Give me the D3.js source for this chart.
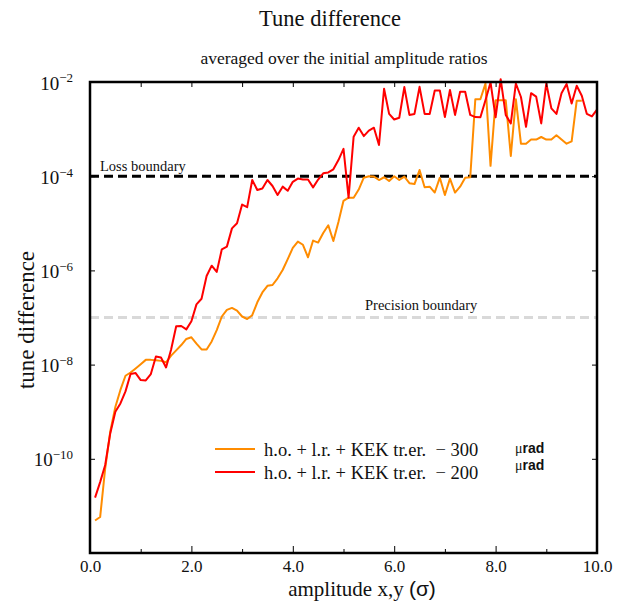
<!DOCTYPE html>
<html>
<head>
<meta charset="utf-8">
<script src="https://cdn.jsdelivr.net/npm/d3@7"></script>
<style>
  body { margin: 0; background: #fff; }
  svg text { font-family: "Liberation Serif", "Times New Roman", serif; fill: #111; }
</style>
</head>
<body>
<svg id="chart" width="625" height="610"></svg>
<script>
// amplitude grid (sigma)
var amplitude = [0.1,0.2,0.3,0.4,0.5,0.6,0.7,0.8,0.9,1.0,
    1.1,1.2,1.3,1.4,1.5,1.6,1.7,1.8,1.9,2.0,
    2.1,2.2,2.3,2.4,2.5,2.6,2.7,2.8,2.9,3.0,
    3.1,3.2,3.3,3.4,3.5,3.6,3.7,3.8,3.9,4.0,
    4.1,4.2,4.3,4.4,4.5,4.6,4.7,4.8,4.9,5.0,
    5.1,5.2,5.3,5.4,5.5,5.6,5.7,5.8,5.9,6.0,
    6.1,6.2,6.3,6.4,6.5,6.6,6.7,6.8,6.9,7.0,
    7.1,7.2,7.3,7.4,7.5,7.6,7.7,7.8,7.9,8.0,
    8.1,8.2,8.3,8.4,8.5,8.6,8.7,8.8,8.9,9.0,
    9.1,9.2,9.3,9.4,9.5,9.6,9.7,9.8,9.9,10.0];

// -300 urad (orange), stops at 9.7
var tune300 = [4.9e-12,5.8e-12,6.3e-11,3.8e-10,1.26e-9,2.9e-9,5.8e-9,6.8e-9,8.3e-9,1.02e-8,
    1.26e-8,1.26e-8,1.23e-8,1.2e-8,1.12e-8,1.55e-8,2.0e-8,2.6e-8,3.5e-8,3.8e-8,
    2.8e-8,2.1e-8,2.1e-8,3.1e-8,5.4e-8,1.05e-7,1.45e-7,1.6e-7,1.4e-7,1.05e-7,
    9.3e-8,1.12e-7,2.1e-7,3.4e-7,4.7e-7,4.9e-7,6.8e-7,1.02e-6,1.74e-6,3.0e-6,
    4.1e-6,3.5e-6,1.9e-6,4.3e-6,3.9e-6,6.2e-6,9.1e-6,4.2e-6,1.07e-5,3.0e-5,
    3.5e-5,3.5e-5,5.2e-5,9.3e-5,1.0e-4,9.8e-5,8.3e-5,9.5e-5,7.9e-5,1.0e-4,
    8.3e-5,9.8e-5,7.1e-5,6.8e-5,1.35e-4,5.8e-5,6.0e-5,4.5e-5,9.3e-5,4.0e-5,
    8.9e-5,4.5e-5,6.0e-5,9.3e-5,9.5e-5,4.3e-3,4.3e-3,9.3e-3,1.66e-4,4.1e-3,
    4.1e-3,4.1e-3,2.7e-4,4.3e-3,4.9e-4,4.9e-4,6.0e-4,6.0e-4,6.8e-4,6.0e-4,
    6.0e-4,7.4e-4,6.0e-4,4.9e-4,5.5e-4,4.0e-3,4.0e-3];

// -200 urad (red)
var tune200 = [1.5e-11,3.2e-11,7.4e-11,3.5e-10,1.0e-9,1.5e-9,2.7e-9,6.3e-9,6.6e-9,4.7e-9,
    4.6e-9,6.3e-9,1.48e-8,1.41e-8,8.7e-9,2.1e-8,6.5e-8,6.6e-8,5.6e-8,8.3e-8,
    1.9e-7,2.5e-7,7.6e-7,1.26e-6,9.3e-7,2.8e-6,3.2e-6,7.8e-6,1.0e-5,2.5e-5,
    2.2e-5,8.3e-5,5.1e-5,5.5e-5,8.3e-5,6.2e-5,4.0e-5,6.0e-5,4.9e-5,7.6e-5,
    8.9e-5,8.5e-5,8.5e-5,5.8e-5,8.5e-5,1.15e-4,1.2e-4,1.4e-4,2.2e-4,3.8e-4,
    3.5e-5,6.9e-4,1.07e-3,7.1e-4,9.3e-4,1.07e-3,4.6e-4,7.2e-3,2.1e-3,1.6e-3,
    1.74e-3,7.8e-3,2.0e-3,2.1e-3,7.9e-3,2.1e-3,2.1e-3,6.6e-3,6.6e-3,1.8e-3,
    6.8e-3,2.0e-3,6.2e-3,6.2e-3,2.0e-3,1.8e-3,1.78e-3,4.1e-3,9.8e-3,1.78e-3,
    1.15e-2,2.0e-3,1.32e-3,9.3e-3,4.8e-3,1.12e-3,5.8e-3,4.9e-3,1.32e-3,9.3e-3,
    2.75e-3,2.1e-3,5.8e-3,9.1e-3,3.5e-3,8.3e-3,5.1e-3,2.1e-3,1.86e-3,2.6e-3];

var xTicks = [0,1,2,3,4,5,6,7,8,9,10];
var xLabels = [0,2,4,6,8,10];
var yTicks = [1e-2,1e-4,1e-6,1e-8,1e-10];
var lossBoundary = 1e-4,
    precisionBoundary = 1e-7;

var serif = "Liberation Serif, serif",
    sans = "Liberation Sans, sans-serif";

var svg = d3.select("#chart"),
    margin = {top: 82, right: 28, bottom: 57, left: 90},
    width = 625 - margin.left - margin.right,
    height = 610 - margin.top - margin.bottom,
    g = svg.append("g").attr("transform", "translate(" + margin.left + "," + margin.top + ")");

var x = d3.scaleLinear().domain([0, 10]).range([0, width]),
    y = d3.scaleLog().domain([1e-12, 1e-2]).range([height, 0]);

// titles
svg.append("text").attr("x", 330).attr("y", 26).attr("text-anchor", "middle")
    .style("font-size", "22.5px").text("Tune difference");
svg.append("text").attr("x", 344).attr("y", 64).attr("text-anchor", "middle")
    .style("font-size", "17.5px").text("averaged over the initial amplitude ratios");

// boundaries
g.append("line").attr("x1", 0).attr("x2", width)
    .attr("y1", y(precisionBoundary)).attr("y2", y(precisionBoundary))
    .attr("stroke", "#d9d9d9").attr("stroke-width", 3).attr("stroke-dasharray", "9,5");
g.append("text").attr("x", 275).attr("y", y(precisionBoundary) - 8)
    .style("font-size", "14.5px").text("Precision boundary");

g.append("line").attr("x1", 0).attr("x2", width)
    .attr("y1", y(lossBoundary)).attr("y2", y(lossBoundary))
    .attr("stroke", "#000").attr("stroke-width", 3).attr("stroke-dasharray", "9,5");
g.append("text").attr("x", 10).attr("y", y(lossBoundary) - 5)
    .style("font-size", "14.5px").text("Loss boundary");

// series
var line = d3.line()
    .x(function(d) { return x(d[0]); })
    .y(function(d) { return y(d[1]); });

g.append("path")
    .datum(d3.zip(amplitude, tune300))
    .attr("fill", "none").attr("stroke", "#ff8c00").attr("stroke-width", 2)
    .attr("stroke-linejoin", "round").attr("d", line);

g.append("path")
    .datum(d3.zip(amplitude, tune200))
    .attr("fill", "none").attr("stroke", "#ff0000").attr("stroke-width", 2)
    .attr("stroke-linejoin", "round").attr("d", line);

// axes
var xAxis = g.append("g")
    .attr("transform", "translate(0," + height + ")")
    .call(d3.axisBottom(x).tickValues(xTicks).tickSizeInner(-6).tickSizeOuter(0).tickPadding(8)
        .tickFormat(function(d) { return xLabels.indexOf(d) >= 0 ? d3.format(".1f")(d) : ""; }));
xAxis.select(".domain").remove();
xAxis.selectAll(".tick line").attr("y2", function(d) { return xLabels.indexOf(d) >= 0 ? -7 : -4; });
xAxis.selectAll("text").attr("y", 7).style("font-size", "17px").style("font-family", serif).attr("fill", "#111");

var xTop = g.append("g")
    .call(d3.axisTop(x).tickValues(xTicks.slice(1, -1)).tickSizeInner(-5).tickSizeOuter(0).tickFormat(""));
xTop.select(".domain").remove();

var yAxis = g.append("g")
    .call(d3.axisLeft(y).tickValues(yTicks).tickSizeInner(-5).tickSizeOuter(0).tickFormat(""));
yAxis.select(".domain").remove();
yAxis.selectAll(".tick").each(function(d) {
    var t = d3.select(this).append("text")
        .attr("x", -17).attr("y", 7)
        .attr("text-anchor", "end").attr("fill", "#111")
        .style("font-size", "19px").style("font-family", serif);
    t.append("tspan").text("10");
    t.append("tspan").attr("dy", "-0.55em").style("font-size", "13px")
        .text("\u2212" + Math.round(-Math.log10(d)));
});

var yRight = g.append("g").attr("transform", "translate(" + width + ",0)")
    .call(d3.axisRight(y).tickValues(yTicks.slice(1)).tickSizeInner(-5).tickSizeOuter(0).tickFormat(""));
yRight.select(".domain").remove();

// frame
g.append("rect").attr("width", width).attr("height", height)
    .attr("fill", "none").attr("stroke", "#000").attr("stroke-width", 2.5);

// axis titles
var xt = svg.append("text").attr("x", 362).attr("y", 596).attr("text-anchor", "middle")
    .style("font-size", "21px");
xt.append("tspan").text("amplitude x,y ");
xt.append("tspan").style("font-family", sans).text("(\u03c3)");
svg.append("text").attr("transform", "translate(34,320) rotate(-90)").attr("text-anchor", "middle")
    .style("font-size", "23px").text("tune difference");

// legend
var legend = [
    {label: "h.o. + l.r. + KEK tr.er.  \u2212 300", color: "#ff8c00"},
    {label: "h.o. + l.r. + KEK tr.er.  \u2212 200", color: "#ff0000"}
];
var lg = svg.append("g").attr("transform", "translate(215,449)");
legend.forEach(function(d, i) {
    lg.append("line").attr("x1", 0).attr("x2", 40).attr("y1", i * 23).attr("y2", i * 23)
        .attr("stroke", d.color).attr("stroke-width", 2);
    lg.append("text").attr("x", 49).attr("y", i * 23 + 7)
        .style("font-size", "18.5px").style("font-family", serif)
        .style("white-space", "pre").text(d.label);
    var u = lg.append("text").attr("x", 300).attr("y", i * 17 + 4).style("font-size", "14px");
    u.append("tspan").style("font-family", serif).text("\u03bc");
    u.append("tspan").style("font-family", sans).style("font-weight", "bold").text("rad");
});
</script>
</body>
</html>
